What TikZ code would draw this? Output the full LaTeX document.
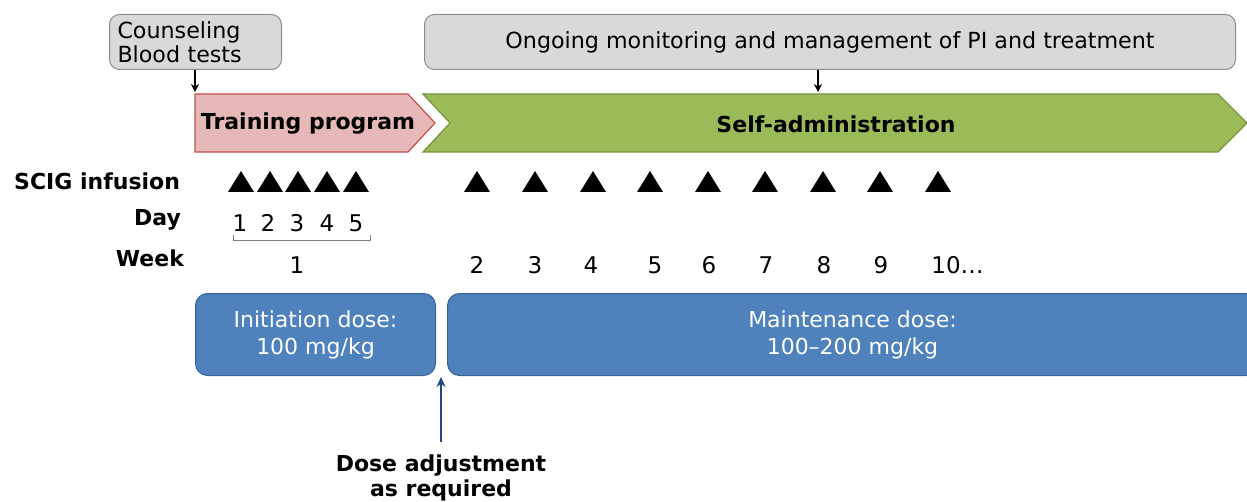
\documentclass[tikz,border=0pt]{standalone}
\usepackage{fontspec}
\setmainfont{DejaVu Sans}
\usetikzlibrary{arrows.meta}
\definecolor{boxgray}{HTML}{D9D9D9}
\definecolor{boxline}{HTML}{8C8C8C}
\definecolor{trainfill}{HTML}{E6B9B8}
\definecolor{trainline}{HTML}{C0504D}
\definecolor{selffill}{HTML}{9BBB59}
\definecolor{selfline}{HTML}{77933C}
\definecolor{dosefill}{HTML}{4F81BD}
\definecolor{doseline}{HTML}{3A6496}
\definecolor{adjarrow}{HTML}{1F497D}
\tikzset{infobox/.style={draw=boxline, fill=boxgray, rounded corners=5pt, line width=0.5pt,
    inner sep=0pt, font=\fontsize{11.1}{12.2}\selectfont},
  dosebox/.style={draw=doseline, fill=dosefill, rounded corners=6pt, line width=0.5pt,
    text=white, align=center, font=\fontsize{11}{13.5}\selectfont},
  phase/.style={font=\fontsize{11}{13}\selectfont\bfseries},
  rowlabel/.style={anchor=east, font=\fontsize{11}{13}\selectfont\bfseries},
  tally/.style={font=\fontsize{11.5}{13}\selectfont},
  downarrow/.style={-{Stealth[length=4pt,width=4pt]}, line width=0.6pt}}

\begin{document}
\begin{tikzpicture}[x=0.5pt,y=-0.5pt]
\useasboundingbox (0,0) rectangle (1247,502);

% boxes on top
\node[infobox, anchor=north west, minimum width=86pt, minimum height=27.5pt,
  text width=78pt, align=left] (counsel) at (109,14) {Counseling\\Blood tests};
\node[infobox, anchor=north west, minimum width=405.5pt, minimum height=27.5pt]
  (monitor) at (424,14) {Ongoing monitoring and management of PI and treatment};
\coordinate (trainin) at (195,92);
\coordinate (selfin) at (818,92);
\draw[downarrow] (counsel.south -| trainin) -- (trainin);
\draw[downarrow] (monitor.south -| selfin) -- (selfin);

% phases
\draw[draw=trainline, fill=trainfill, line width=0.6pt]
  (195,94) -- (408,94) -- (435,123) -- (408,152) -- (195,152) -- cycle;
\draw[draw=selfline, fill=selffill, line width=0.6pt]
  (423,94) -- (1218,94) -- (1247,123) -- (1218,152) -- (423,152) -- (450,123) -- cycle;
\node[phase] (train) at (308,124) {Training program};
\node[phase] (self) at (836,124) {Self-administration};

% rows
\node[rowlabel] (scig) at (187,181) {SCIG infusion};
\node[rowlabel] (day) at (188,220) {Day};
\node[rowlabel] (week) at (191,258) {Week};

\foreach \x in {241,270,298,327,356,477,535,593,650,708,765,823,880,938}
  \fill (\x-13,192) -- (\x,171) -- (\x+13,192) -- cycle;

\foreach \d/\x in {1/240,2/268,3/297,4/327,5/356}
  \node[tally] (day\d) at (\x,223) {\d};
\draw[gray, line width=0.5pt] (233,235) -- (233,241) -- (370,241) -- (370,235);

\foreach \w/\x in {1/297,2/477,3/535,4/591,5/655,6/709,7/766,8/824,9/881}
  \node[tally] (week\w) at (\x,265) {\w};
\node[tally, anchor=west, inner sep=0pt] (week10) at (931,265) {10…};

% doses
\node[dosebox, anchor=north west, minimum width=120pt, minimum height=41pt]
  (initdose) at (195,293) {Initiation dose:\\100 mg/kg};
\node[dosebox, anchor=north west, minimum width=405pt, minimum height=41pt]
  (maintdose) at (447,293) {Maintenance dose:\\100–200 mg/kg};

\node[align=center, font=\fontsize{11}{12.5}\selectfont\bfseries]
  (adjust) at (441,478) {Dose adjustment\\as required};
\coordinate (gap) at (441,377);
\draw[adjarrow, line width=1pt, -{Stealth[length=5pt,width=4.5pt]}, shorten <=3pt]
  (adjust.north) -- (gap);
\end{tikzpicture}
\end{document}
